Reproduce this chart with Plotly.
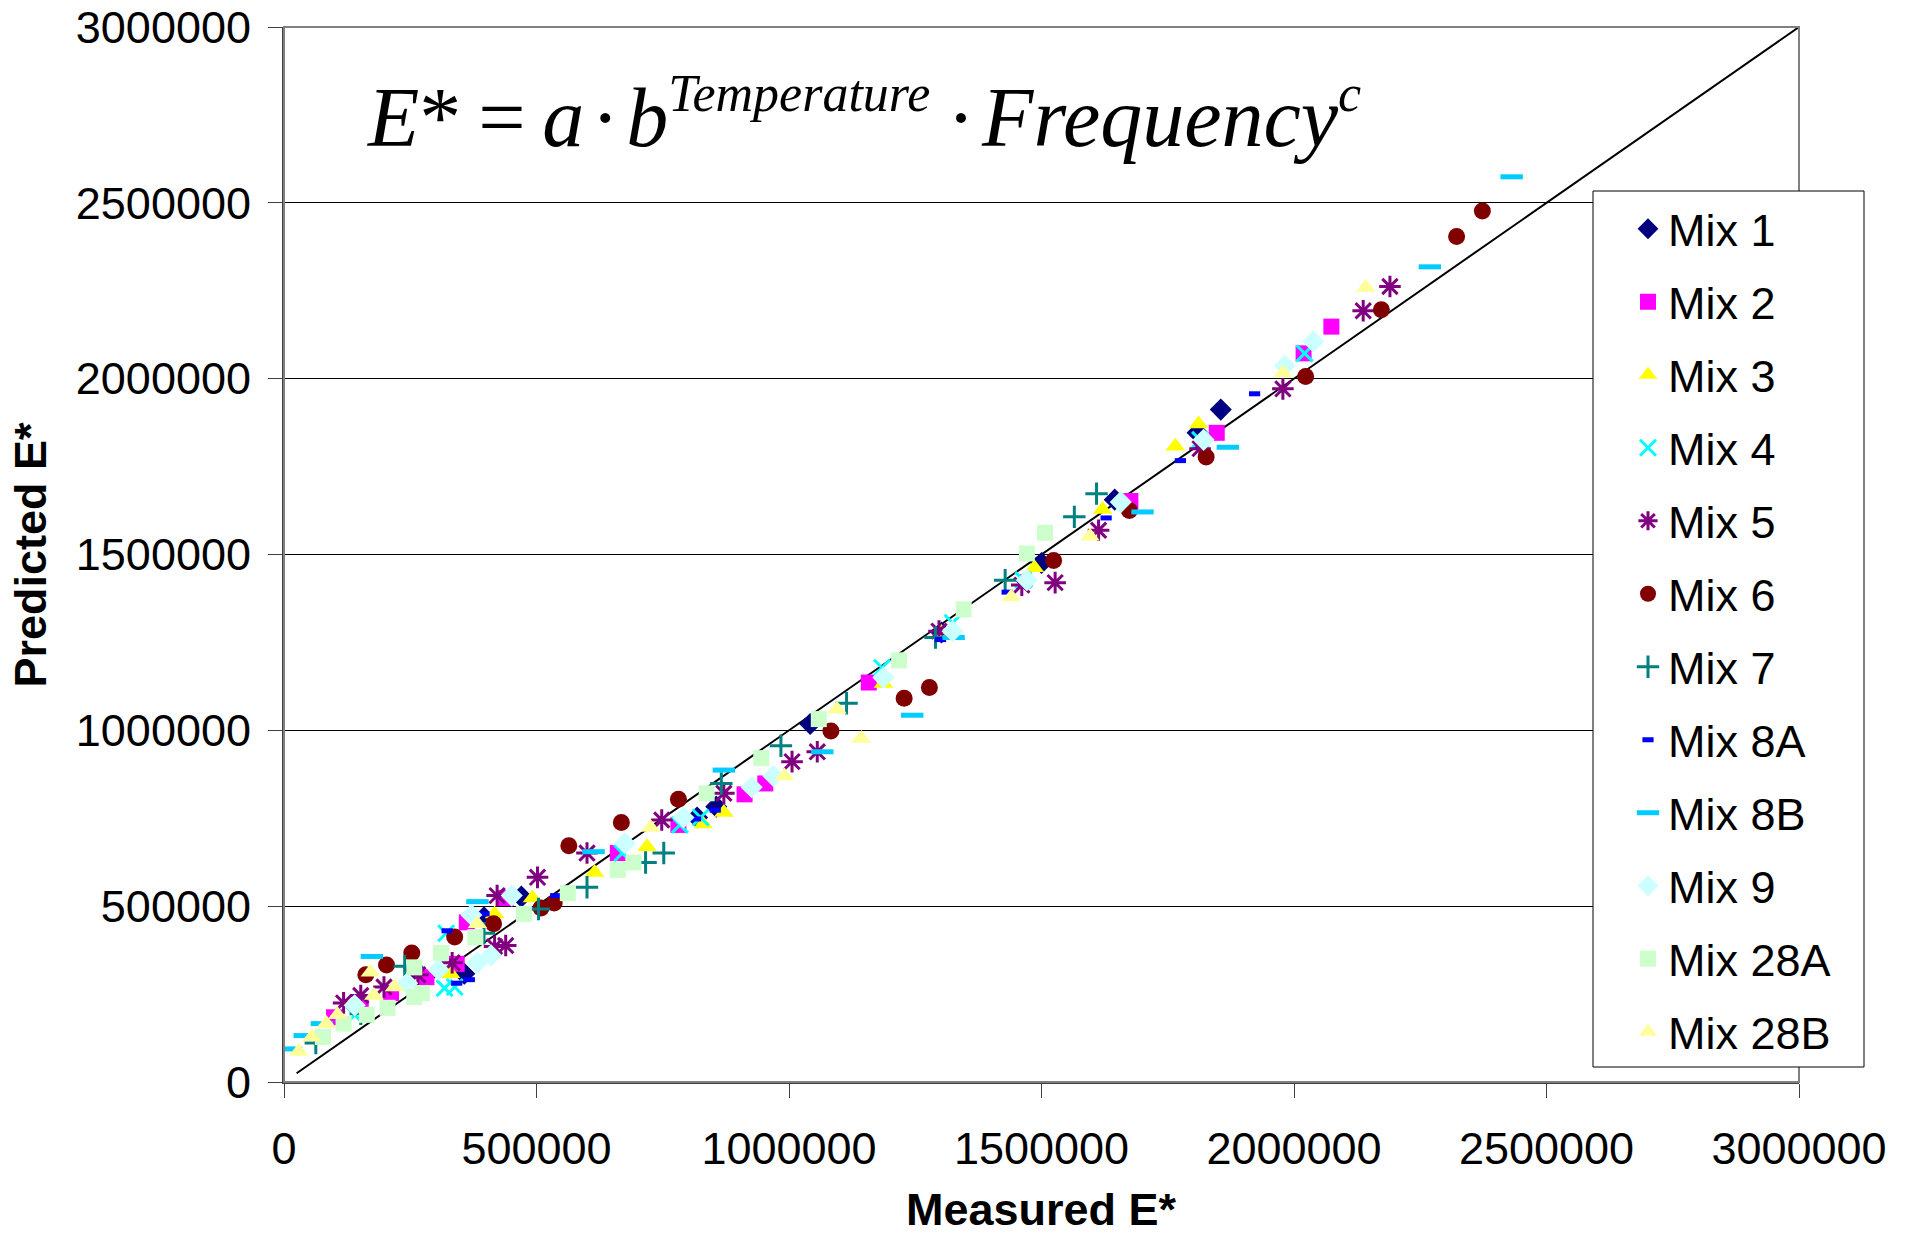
import plotly.graph_objects as go

# ---------------- data (Measured E*, Predicted E*) ----------------
mix1_x = [1855000, 1809000, 1645000, 1500000, 1302000, 1042000, 856000, 818000, 470000, 396000, 357000, 258000]
mix1_y = [1912000, 1846000, 1656000, 1476000, 1278000, 1018000, 783000, 752000, 527000, 468000, 308000, 322000]

mix2_x = [2074000, 2019000, 1847000, 1676000, 1158000, 953000, 912000, 781000, 661000, 439000, 362000, 342000, 282000, 212000, 152000, 99000]
mix2_y = [2148000, 2072000, 1846000, 1652000, 1136000, 849000, 818000, 731000, 651000, 523000, 454000, 336000, 298000, 253000, 222000, 184000]

mix3_x = [1811000, 1765000, 1621000, 1486000, 1302000, 1187000, 871000, 830000, 719000, 615000, 492000, 417000, 330000]
mix3_y = [1871000, 1808000, 1628000, 1462000, 1278000, 1133000, 766000, 734000, 669000, 596000, 523000, 478000, 308000]

mix4_x = [2021000, 1814000, 1464000, 1324000, 1184000, 825000, 784000, 670000, 321000, 318000, 338000, 140000]
mix4_y = [2072000, 1826000, 1427000, 1306000, 1178000, 752000, 731000, 651000, 423000, 267000, 270000, 191000]

mix5_x = [2190000, 2137000, 1978000, 1814000, 1613000, 1527000, 1461000, 1297000, 1056000, 1006000, 871000, 748000,
          600000, 502000, 422000, 439000, 417000, 333000, 265000, 198000, 152000, 118000]
mix5_y = [2262000, 2193000, 1971000, 1801000, 1569000, 1420000, 1413000, 1282000, 939000, 911000, 821000, 745000,
          651000, 582000, 530000, 388000, 385000, 339000, 305000, 270000, 246000, 225000]

mix6_x = [2373000, 2322000, 2173000, 2023000, 1826000, 1674000, 1524000, 1278000, 1228000, 1083000, 781000, 668000,
          564000, 535000, 509000, 415000, 338000, 253000, 203000, 162000]
mix6_y = [2477000, 2404000, 2196000, 2006000, 1777000, 1625000, 1483000, 1122000, 1091000, 998000, 804000, 738000,
          672000, 509000, 495000, 450000, 412000, 367000, 333000, 305000]

mix7_x = [1609000, 1565000, 1428000, 1290000, 1114000, 984000, 866000, 752000, 716000, 600000, 504000, 396000, 239000, 152000, 63000]
mix7_y = [1673000, 1607000, 1427000, 1264000, 1077000, 956000, 849000, 651000, 624000, 554000, 492000, 423000, 329000, 194000, 111000]

mix8a_x = [1922000, 1775000, 1628000, 1432000, 1300000, 854000, 815000, 538000, 396000, 323000, 367000, 342000]
mix8a_y = [1957000, 1767000, 1604000, 1393000, 1258000, 773000, 748000, 530000, 478000, 430000, 291000, 281000]

mix8b_x = [2431000, 2269000, 1869000, 1700000, 1326000, 1244000, 1066000, 871000, 613000, 383000, 174000, 75000, 41000, 14000]
mix8b_y = [2574000, 2318000, 1805000, 1621000, 1264000, 1043000, 939000, 887000, 655000, 513000, 357000, 166000, 132000, 94000]

mix9_x = [2038000, 1982000, 1821000, 1657000, 1471000, 1324000, 1187000, 969000, 926000, 791000, 675000, 451000,
          371000, 410000, 383000, 306000, 244000, 140000]
mix9_y = [2106000, 2037000, 1826000, 1649000, 1427000, 1282000, 1150000, 870000, 838000, 752000, 679000, 530000,
          475000, 360000, 339000, 319000, 281000, 218000]

mix28a_x = [1507000, 1471000, 1346000, 1218000, 1059000, 945000, 837000, 692000, 661000, 562000, 475000, 379000,
            311000, 258000, 273000, 258000, 205000, 164000, 118000, 77000]
mix28a_y = [1562000, 1503000, 1344000, 1199000, 1032000, 921000, 821000, 624000, 603000, 537000, 478000, 412000,
            367000, 326000, 253000, 242000, 211000, 191000, 166000, 128000]

mix28b_x = [2142000, 1978000, 1596000, 1440000, 1143000, 1095000, 991000, 726000, 383000, 219000, 171000, 178000,
            106000, 84000, 55000, 29000]
mix28b_y = [2259000, 2016000, 1552000, 1379000, 977000, 1060000, 870000, 724000, 450000, 270000, 312000, 246000,
            191000, 166000, 128000, 87000]

line_x = [25000, 3000000]
line_y = [25000, 3000000]

x_ticks = [0, 500000, 1000000, 1500000, 2000000, 2500000, 3000000]
y_ticks = [0, 500000, 1000000, 1500000, 2000000, 2500000, 3000000]

series = [
    ("Mix 1", mix1_x, mix1_y, "diamond", "#000080", 17, 0),
    ("Mix 2", mix2_x, mix2_y, "square", "#FF00FF", 16, 0),
    ("Mix 3", mix3_x, mix3_y, "triangle-up", "#FFFF00", 17, 0),
    ("Mix 4", mix4_x, mix4_y, "x-thin", "#00FFFF", 16, 3),
    ("Mix 5", mix5_x, mix5_y, "asterisk", "#800080", 18, 3),
    ("Mix 6", mix6_x, mix6_y, "circle", "#800000", 17, 0),
    ("Mix 7", mix7_x, mix7_y, "cross-thin", "#008080", 16, 3),
    ("Mix 8A", mix8a_x, mix8a_y, "line-ew", "#0000FF", 8, 5),
    ("Mix 8B", mix8b_x, mix8b_y, "line-ew", "#00CCFF", 16, 5),
    ("Mix 9", mix9_x, mix9_y, "diamond", "#CCFFFF", 17, 0),
    ("Mix 28A", mix28a_x, mix28a_y, "square", "#CCFFCC", 16, 0),
    ("Mix 28B", mix28b_x, mix28b_y, "triangle-up", "#FFFF99", 17, 0),
]

fig = go.Figure()
fig.add_trace(go.Scatter(x=line_x, y=line_y, mode="lines", line=dict(color="black", width=2),
                         showlegend=False, hoverinfo="skip"))
for name, xs, ys, sym, col, size, lw in series:
    if lw:
        marker = dict(symbol=sym, size=size, color=col, line=dict(color=col, width=lw))
    else:
        marker = dict(symbol=sym, size=size, color=col, line=dict(width=0))
    fig.add_trace(go.Scatter(x=xs, y=ys, mode="markers", name=name, legendgroup=name, marker=marker))

W, H = 1910, 1238
L, R, T, B = 284, 111, 27, 156
pw, ph = W - L - R, H - T - B

def px(xp):
    return (xp - L) / pw

def py(yp):
    return (H - B - yp) / ph

axis_font = dict(family="Liberation Sans, Arial, sans-serif", size=45, color="black")

fig.update_layout(
    width=W, height=H,
    margin=dict(l=L, r=R, t=T, b=B, pad=0, autoexpand=False),
    paper_bgcolor="white", plot_bgcolor="white",
    font=axis_font,
    xaxis=dict(range=[0, 3000000], tickvals=x_ticks, ticktext=[str(v) for v in x_ticks],
               showgrid=False, zeroline=False, showline=True, linecolor="#404040", linewidth=2,
               ticks="outside", ticklen=14, tickcolor="#404040", tickwidth=1,
               tickfont=axis_font, ticklabelstandoff=12),
    yaxis=dict(range=[0, 3000000], tickvals=y_ticks, ticktext=[str(v) for v in y_ticks],
               showgrid=True, gridcolor="#000000", gridwidth=1, zeroline=False,
               showline=True, linecolor="#404040", linewidth=2,
               ticks="outside", ticklen=14, tickcolor="#404040", tickwidth=1,
               tickfont=axis_font, ticklabelstandoff=8),
    legend=dict(x=px(1628), y=py(193), xanchor="left", yanchor="top",
                bgcolor="rgba(0,0,0,0)", borderwidth=0,
                font=dict(family="Liberation Sans, Arial, sans-serif", size=45, color="black"),
                tracegroupgap=11.5, traceorder="grouped"),
    shapes=[
        dict(type="rect", xref="paper", yref="paper", x0=0, x1=1, y0=0, y1=1,
             line=dict(color="#808080", width=2), layer="above"),
        dict(type="rect", xref="paper", yref="paper", x0=px(1593), x1=px(1864), y0=py(1067), y1=py(191),
             line=dict(color="black", width=1), fillcolor="white", layer="above"),
    ],
    annotations=[
        dict(xref="paper", yref="paper", x=0.5, y=py(1209), xanchor="center", yanchor="middle",
             text="<b>Measured E*</b>", showarrow=False,
             font=dict(family="Liberation Sans, Arial, sans-serif", size=45, color="black")),
        dict(xref="paper", yref="paper", x=px(30), y=0.5, xanchor="center", yanchor="middle",
             text="<b>Predicted E*</b>", showarrow=False, textangle=-90,
             font=dict(family="Liberation Sans, Arial, sans-serif", size=45, color="black")),
        dict(xref="paper", yref="paper", x=px(365), y=py(115), xanchor="left", yanchor="middle",
             text=("<i>E</i>*\u2009=\u2009<i>a</i>\u200a\u00b7\u200a<i>b</i>"
                   "<sup><span style=\"font-size:52px\"><i>Temperature</i></span></sup>"
                   "\u2009\u00b7\u200a<i>Frequency</i>"
                   "<sup><span style=\"font-size:52px\"><i>c</i></span></sup>"),
             showarrow=False,
             font=dict(family="Liberation Serif, Times New Roman, serif", size=84, color="black")),
    ],
)

fig.write_html("out.html", config={"displayModeBar": False},
               post_script="document.body.style.margin='0';document.body.style.overflow='hidden';")
